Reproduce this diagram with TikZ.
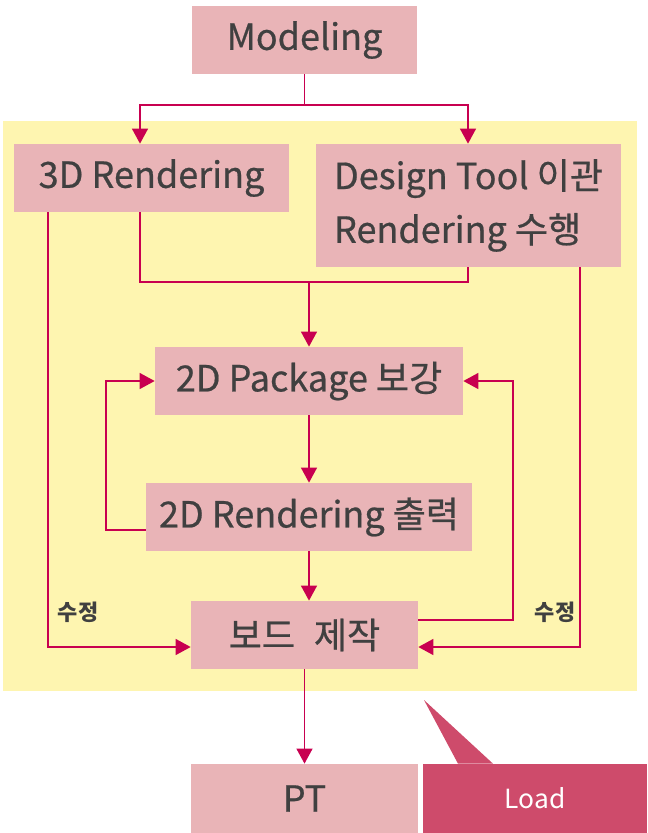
\documentclass[tikz,border=0pt]{standalone}
\usepackage{fontspec}
\setmainfont{Noto Sans CJK KR}
\newfontfamily\medfont{Noto Sans CJK KR}[FakeBold=0.6]
\usetikzlibrary{arrows.meta}

\definecolor{boxpink}{RGB}{233, 180, 183}
\definecolor{bgyellow}{RGB}{254, 245, 176}
\definecolor{linkred}{RGB}{200, 0, 80}
\definecolor{loadred}{RGB}{206, 75, 107}
\definecolor{textgray}{RGB}{64, 64, 64}

\tikzset{
    stagebox/.style={fill=boxpink, inner sep=0pt, minimum height=1.36cm,
        text=textgray, font=\medfont\fontsize{20.5}{30.6}\selectfont},
    link/.style={draw=linkred, line width=0.9pt},
    arr/.style={link, -{Triangle[length=8.5pt, width=9pt]}},
    fixlabel/.style={text=textgray, font=\fontsize{12.5}{14}\selectfont\bfseries}
}

\begin{document}
\begin{tikzpicture}[x=0.02cm, y=-0.02cm]
        \useasboundingbox (0,0) rectangle (647,833);
        \fill[bgyellow] (3,121) rectangle (637,691);

        \node[stagebox, minimum width=4.5cm] (model) at (304.5,40){Modeling};
        \node[stagebox, minimum width=5.5cm] (r3d) at (151.5,178){3D Rendering};
        \node[stagebox, minimum width=6.1cm, minimum height=2.46cm, align=left] (dtool) at (468.5,205.5){Design Tool 이관\\Rendering 수행};
        \node[stagebox, minimum width=6.16cm] (pkg) at (309,381){2D Package 보강};
        \node[stagebox, minimum width=6.52cm] (r2d) at (309,517){2D Rendering 출력};
        \node[stagebox, minimum width=4.54cm] (board) at (304.5,635){보드\hspace{0.3em} 제작};
        \node[stagebox, minimum width=4.54cm, minimum height=1.38cm] (pt) at (304.5,798.5){PT};
        \node[fill=loadred, inner sep=0pt, minimum width=4.48cm, minimum height=1.38cm,
            text=white, font=\fontsize{15}{18}\selectfont] (load) at (535,798.5){Load};
        \fill[loadred] (424,700) -- (load.north -| 493,0) -- (load.north -| 458,0) -- cycle;

        \node[fixlabel] (fixl) at (78,612){수정};
        \node[fixlabel] (fixr) at (555,612){수정};

        % top split
        \draw[arr] (model.south) -- (model.south |- 0,105) -| (r3d.north -| 140,0);
        \draw[arr] (model.south |- 0,105) -| (dtool.north -| 468,0);
        % join to 2D package
        \coordinate (join) at (pkg.north |- 0,282);
        \draw[link] (r3d.south -| 140,0) |- (join) -| (dtool.south -| 468,0);
        \draw[arr] (join) -- (pkg.north);
        \draw[arr] (pkg.south) -- (r2d.north);
        \draw[arr] (r2d.south) -- (board.north -| r2d.south);
        \draw[arr] (board.south) -- (pt.north);
        % loops
        \draw[arr] (r2d.west |- 0,530) -- (106,530) |- (pkg.west);
        \draw[arr] (board.east |- 0,620) -- (513,620) |- (pkg.east);
        \draw[arr] (r3d.south -| 48,0) |- (board.west |- 0,647);
        \draw[arr] (dtool.south -| 580,0) |- (board.east |- 0,647);
    \end{tikzpicture}
\end{document}
